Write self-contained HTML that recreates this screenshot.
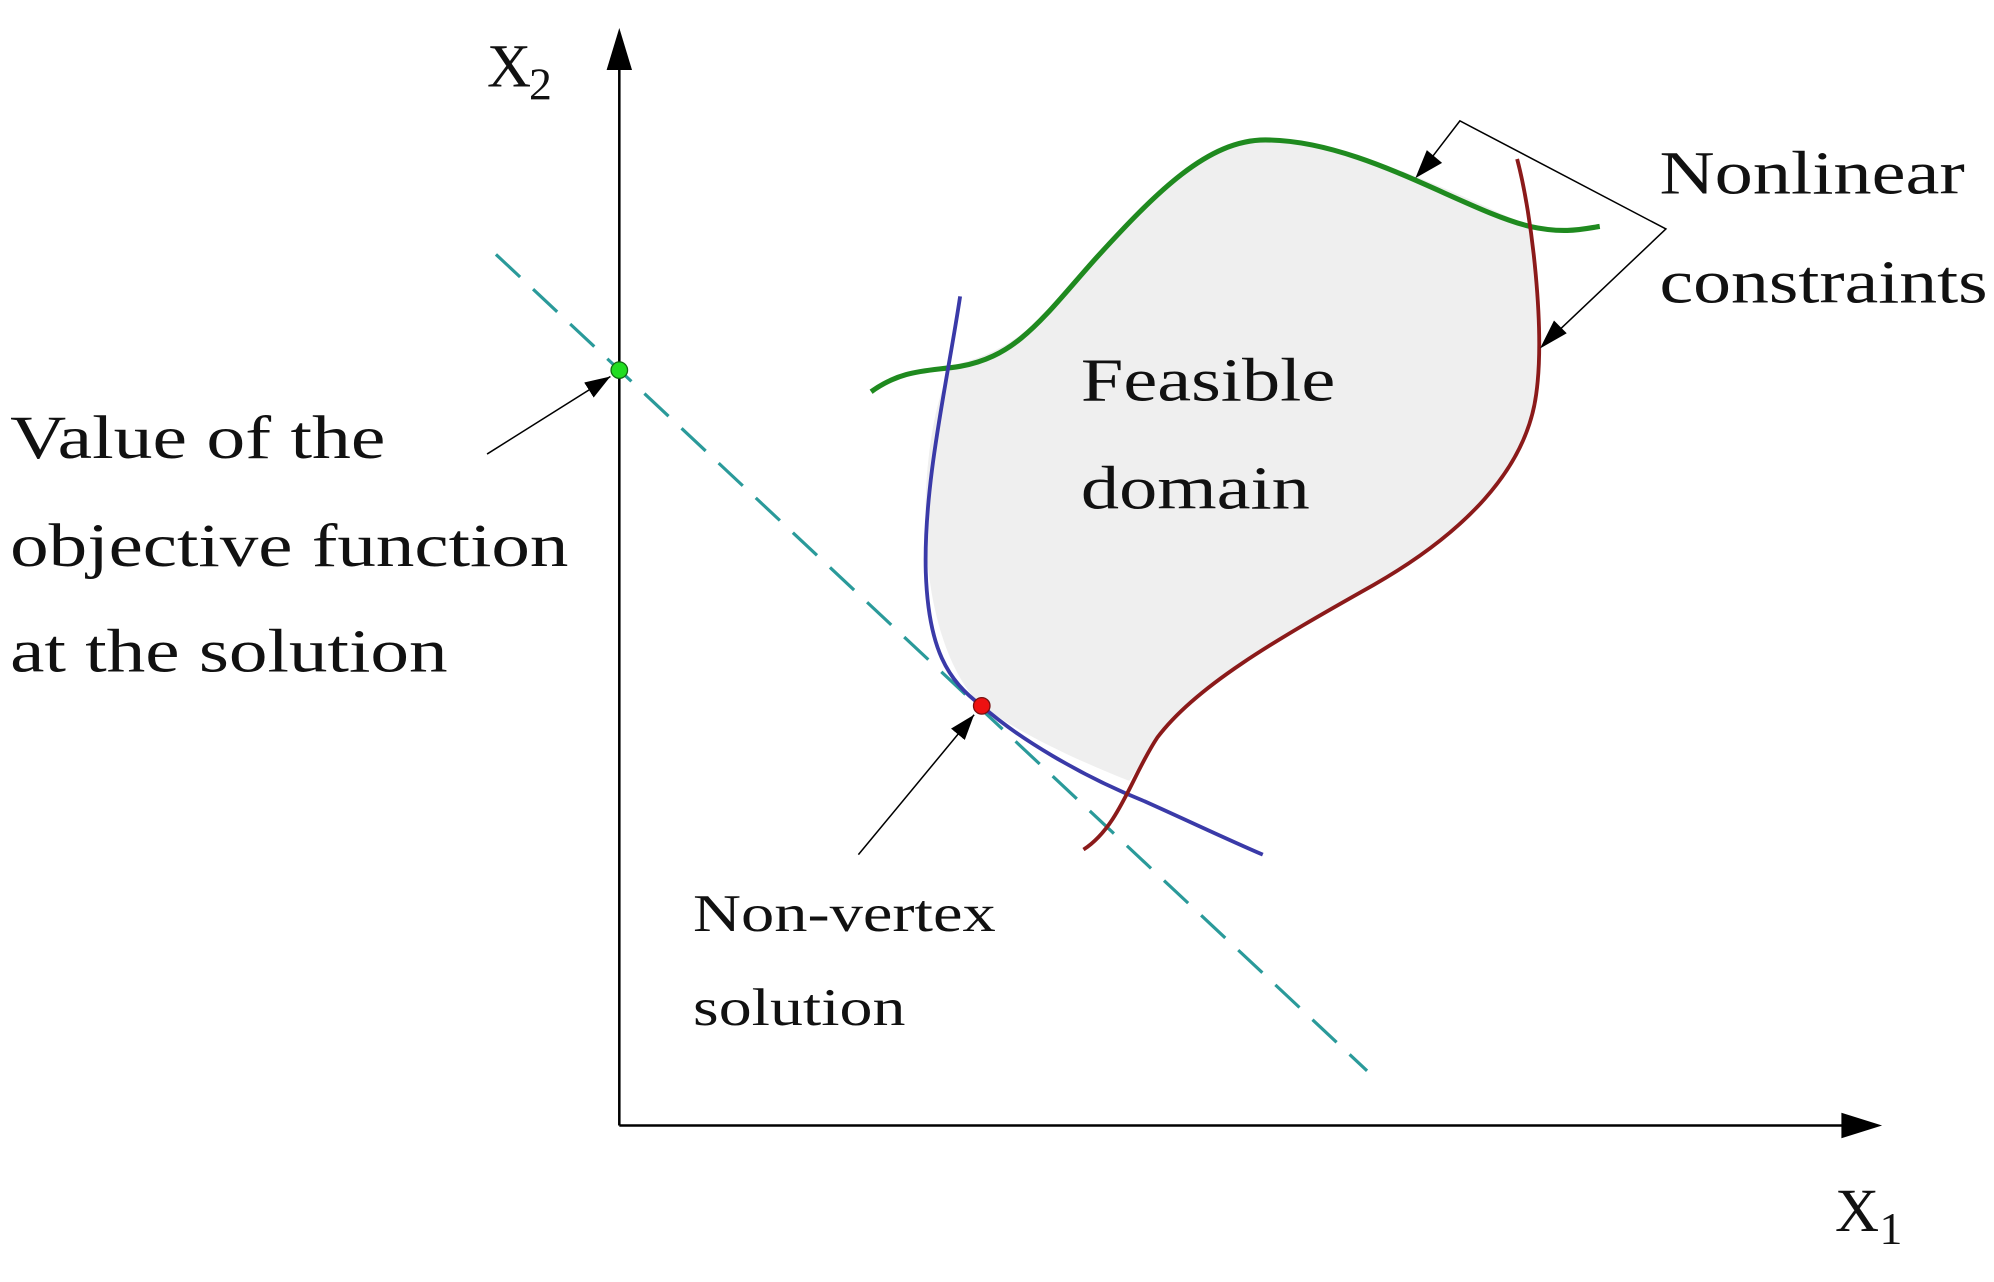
<!DOCTYPE html>
<html><head><meta charset="utf-8"><style>
html,body{margin:0;padding:0;background:#fff;}
svg{display:block;}
text{font-family:"Liberation Serif",serif;fill:#111;}
</style></head><body>
<svg width="1994" height="1282" viewBox="0 0 1568 1008" xmlns="http://www.w3.org/2000/svg">
<defs>
<marker id="sa" markerWidth="22" markerHeight="18" refX="20" refY="9" orient="auto" markerUnits="userSpaceOnUse">
<path d="M0,2 L20,9 L0,16 z" fill="#000"/></marker>
</defs>
<path d="M750,287 C800,275 820,250 860,205 C910,150 950,110 995,110 C1060,110 1140,150 1203,178 C1212,230 1215,300 1208,310 C1200,370 1150,420 1080,460 C1000,505 940,540 910,580 C900,595 893,607 888,614 C840,595 800,575 772,555 C745,530 725,470 728,390 C730,340 740,300 750,287 Z" fill="#efefef"/>
<line x1="487" y1="885" x2="487" y2="30" stroke="#000" stroke-width="2"/>
<path d="M477,55 L487,22 L497,55 Z" fill="#000"/>
<line x1="487" y1="885" x2="1455" y2="885" stroke="#000" stroke-width="2"/>
<path d="M1448,875 L1480,885 L1448,895 Z" fill="#000"/>
<line x1="390" y1="200" x2="1075" y2="842" stroke="#2a9a9a" stroke-width="2.5" stroke-dasharray="26,14"/>
<path d="M685,308 C710,290 730,292 755,288 C800,280 820,250 860,205 C910,150 950,110 995,110 C1070,110 1150,165 1203,178 C1230,184 1245,180 1258,178" fill="none" stroke="#1f8a1f" stroke-width="4"/>
<path d="M755,233 C745,300 726,380 728,450 C730,510 745,535 772,555 C800,580 850,610 900,630 C940,648 965,660 993,672" fill="none" stroke="#3a3aa8" stroke-width="3"/>
<path d="M1193,125 C1205,170 1215,260 1208,310 C1200,370 1150,420 1080,460 C1000,505 940,540 910,580 C890,610 880,650 852,668" fill="none" stroke="#8b1a1a" stroke-width="3"/>
<circle cx="487" cy="291" r="6.5" fill="#22dd22" stroke="#116611" stroke-width="1"/>
<circle cx="772" cy="555" r="6.5" fill="#ee1111" stroke="#771111" stroke-width="1"/>
<line x1="383" y1="357" x2="480" y2="296" stroke="#000" stroke-width="1.2" marker-end="url(#sa)"/>
<line x1="675" y1="672" x2="766" y2="562" stroke="#000" stroke-width="1.2" marker-end="url(#sa)"/>
<polyline points="1115,138 1148,95 1310,180 1213,272" fill="none" stroke="#000" stroke-width="1.2"/>
<path d="M1113,140 L1122,118 L1134,128 Z" fill="#000"/>
<path d="M1211,274 L1222,252 L1232,262 Z" fill="#000"/>
<text x="383" y="68" font-size="48">X</text><text x="416" y="78" font-size="36">2</text>
<text x="1443" y="968" font-size="48">X</text><text x="1478" y="978" font-size="36">1</text>
<text x="850" y="315" font-size="48" textLength="200" lengthAdjust="spacingAndGlyphs">Feasible</text>
<text x="850" y="400" font-size="48" textLength="180" lengthAdjust="spacingAndGlyphs">domain</text>
<text x="1305" y="152" font-size="48" textLength="240" lengthAdjust="spacingAndGlyphs">Nonlinear</text>
<text x="1305" y="238" font-size="48" textLength="258" lengthAdjust="spacingAndGlyphs">constraints</text>
<text x="8" y="360" font-size="48" textLength="295" lengthAdjust="spacingAndGlyphs">Value of the</text>
<text x="8" y="445" font-size="48" textLength="439" lengthAdjust="spacingAndGlyphs">objective function</text>
<text x="8" y="528" font-size="48" textLength="344" lengthAdjust="spacingAndGlyphs">at the solution</text>
<text x="545" y="732" font-size="42" textLength="238" lengthAdjust="spacingAndGlyphs">Non-vertex</text>
<text x="545" y="806" font-size="42" textLength="167" lengthAdjust="spacingAndGlyphs">solution</text>
</svg>
</body></html>
